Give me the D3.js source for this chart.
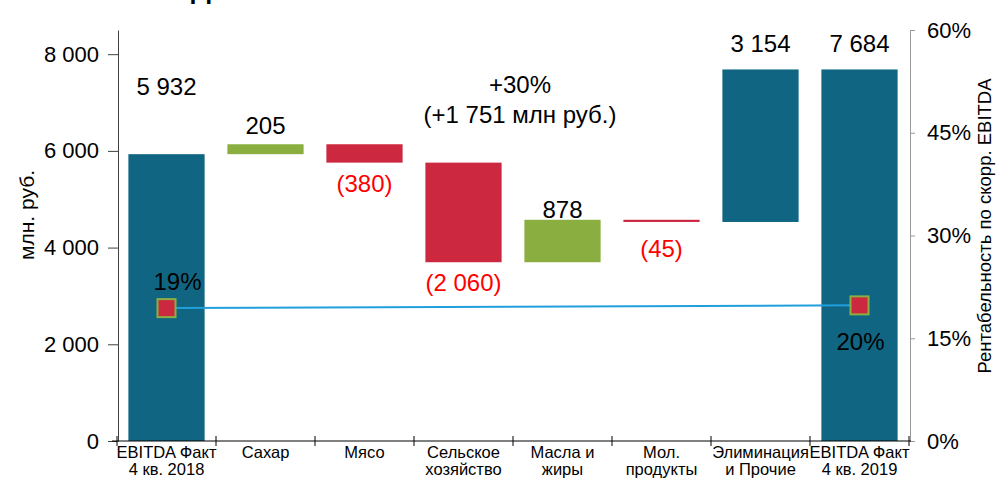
<!DOCTYPE html>
<html>
<head>
<meta charset="utf-8">
<script src="https://cdn.jsdelivr.net/npm/d3@7"></script>
<style>
  html, body { margin: 0; padding: 0; background: #fff; }
  svg { display: block; font-family: "Liberation Sans", Arial, sans-serif; }
</style>
</head>
<body>
<svg id="chart" width="997" height="478"></svg>
<script>
// ---- data ----
const categories = [
  ["EBITDA Факт", "4 кв. 2018"],
  ["Сахар"],
  ["Мясо"],
  ["Сельское", "хозяйство"],
  ["Масла и", "жиры"],
  ["Мол.", "продукты"],
  ["Элиминация", "и Прочие"],
  ["EBITDA Факт", "4 кв. 2019"]
];
const values = [5932, 205, -380, -2060, 878, -45, 3154, 7684];
const kinds = ["total", "delta", "delta", "delta", "delta", "delta", "other", "total"];
const valueLabels = ["5 932", "205", "(380)", "(2 060)", "878", "(45)", "3 154", "7 684"];
const marginIdx = [0, 7];
const marginValues = [0.194, 0.198];
const marginLabels = ["19%", "20%"];
const leftTicks = [0, 2000, 4000, 6000, 8000];
const rightTicks = [0, 0.15, 0.30, 0.45, 0.60];
const changeLines = ["+30%", "(+1 751 млн руб.)"];

// ---- layout / style ----
const colTotal = "#106682", colUp = "#8AAF40", colDown = "#CC2940", labelRed = "#FF0000";
// label baseline offsets relative to bar top (negative) or bar bottom (positive)
const labelOffset = [-59, -10, 29, 29, -2, 35, -17, -17];

const svg = d3.select("#chart");

const x = d3.scaleBand().domain(d3.range(categories.length)).range([117, 909])
  .paddingInner(0.23).paddingOuter(0.115);
const yL = d3.scaleLinear().domain([0, 8500]).range([441, 30]);
const yR = d3.scaleLinear().domain([0, 0.6]).range([441, 30]);

// compute waterfall
let run = 0;
const bars = values.map((v, i) => {
  let lo, hi;
  if (kinds[i] === "total") { lo = 0; hi = v; run = v; }
  else { const s = run; run = s + v; lo = Math.min(s, run); hi = Math.max(s, run); }
  return { i, v, lo, hi, kind: kinds[i] };
});
const barColor = d => d.kind === "total" || d.kind === "other" ? colTotal : (d.v >= 0 ? colUp : colDown);

// bars
svg.append("g").selectAll("rect").data(bars).join("rect")
  .attr("x", d => x(d.i))
  .attr("width", x.bandwidth())
  .attr("y", d => yL(d.hi))
  .attr("height", d => Math.max(2, yL(d.lo) - yL(d.hi)))
  .attr("fill", barColor);

// value labels
svg.append("g").selectAll("text").data(bars).join("text")
  .attr("x", d => x(d.i) + x.bandwidth() / 2)
  .attr("y", d => labelOffset[d.i] < 0 ? yL(d.hi) + labelOffset[d.i] : yL(d.lo) + labelOffset[d.i])
  .attr("text-anchor", "middle")
  .attr("font-size", 24)
  .attr("fill", d => d.v < 0 ? labelRed : "#000")
  .text(d => valueLabels[d.i]);

// left axis
const fmt = v => d3.format(",")(v).replace(/,/g, " ");
const gL = svg.append("g").attr("transform", "translate(118,0)")
  .call(d3.axisLeft(yL).tickValues(leftTicks).tickFormat(fmt).tickSize(10).tickSizeOuter(0).tickPadding(9));
gL.selectAll("path,line").attr("stroke", "#404040");
gL.selectAll("text").attr("font-size", 22).attr("fill", "#000").attr("font-family", "Liberation Sans, Arial, sans-serif");

// right axis
const gR = svg.append("g").attr("transform", "translate(910,0)")
  .call(d3.axisRight(yR).tickValues(rightTicks).tickFormat(d3.format(".0%")).tickSize(5).tickSizeOuter(0).tickPadding(12));
gR.selectAll("path,line").attr("stroke", "#999");
gR.selectAll("text").attr("font-size", 22).attr("fill", "#000").attr("font-family", "Liberation Sans, Arial, sans-serif");

// x axis
const gX = svg.append("g");
gX.append("line").attr("x1", 112).attr("x2", 911).attr("y1", 441).attr("y2", 441).attr("stroke", "#000");
const step = x.step();
gX.selectAll("line.tick").data(d3.range(categories.length + 1)).join("line")
  .attr("class", "tick")
  .attr("x1", i => 117 + i * step).attr("x2", i => 117 + i * step)
  .attr("y1", 436).attr("y2", 446).attr("stroke", "#000");
const catText = gX.selectAll("text").data(categories).join("text")
  .attr("text-anchor", "middle").attr("font-size", 16.5).attr("fill", "#000")
  .attr("transform", (d, i) => `translate(${x(i) + x.bandwidth() / 2},0)`);
catText.selectAll("tspan").data(d => d).join("tspan")
  .attr("x", 0).attr("y", (d, j) => 458 + j * 17).text(d => d);

// axis titles
svg.append("text").attr("transform", "translate(34,215) rotate(-90)")
  .attr("text-anchor", "middle").attr("font-size", 21).text("млн. руб.");
svg.append("text").attr("transform", "translate(991,226) rotate(-90)")
  .attr("text-anchor", "middle").attr("font-size", 18.5).text("Рентабельность по скорр. EBITDA");

// margin line + markers
const pts = marginIdx.map((ci, k) => ({ x: x(ci) + x.bandwidth() / 2, y: yR(marginValues[k]), k }));
svg.append("path").attr("d", d3.line().x(d => d.x).y(d => d.y)(pts))
  .attr("stroke", "#1FA0DC").attr("stroke-width", 2).attr("fill", "none");
svg.append("g").selectAll("rect").data(pts).join("rect")
  .attr("x", d => d.x - 9).attr("y", d => d.y - 9).attr("width", 18).attr("height", 18)
  .attr("fill", colDown).attr("stroke", colUp).attr("stroke-width", 2);
const mOff = [[11, -18], [1, 45]];
svg.append("g").selectAll("text").data(pts).join("text")
  .attr("x", d => d.x + mOff[d.k][0]).attr("y", d => d.y + mOff[d.k][1])
  .attr("text-anchor", "middle").attr("font-size", 24).attr("fill", "#000")
  .text(d => marginLabels[d.k]);

// change annotation
svg.append("g").selectAll("text").data(changeLines).join("text")
  .attr("x", 520).attr("y", (d, i) => 93 + i * 30)
  .attr("text-anchor", "middle").attr("font-size", 24).attr("fill", "#000").text(d => d);

// clipped title fragment at top edge
svg.append("text").attr("x", 201).attr("y", -2).attr("text-anchor", "middle")
  .attr("font-size", 28).attr("font-weight", "bold").text("Д");
</script>
</body>
</html>
